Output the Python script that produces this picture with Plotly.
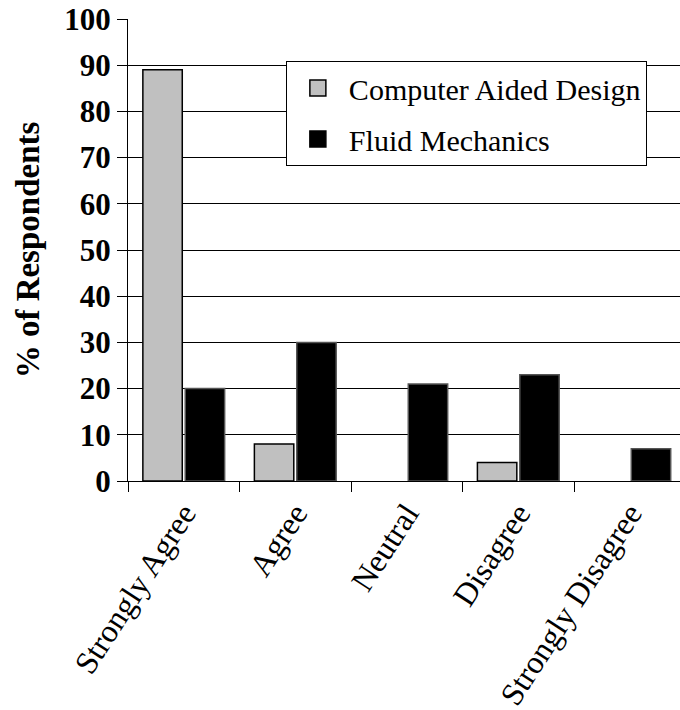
import plotly.graph_objects as go

# Survey responses (% of respondents) per answer, for each course
categories = ["Strongly Agree", "Agree", "Neutral", "Disagree", "Strongly Disagree"]
cad_values = [89, 8, 0, 4, 0]
fluid_values = [20, 30, 21, 23, 7]
y_ticks = [0, 10, 20, 30, 40, 50, 60, 70, 80, 90, 100]

series_names = ["Computer Aided Design", "Fluid Mechanics"]
series_fill = ["#c0c0c0", "#000000"]
series_edge = ["#000000", "#555555"]

SERIF = "Liberation Serif"

fig = go.Figure()
for name, values, fill, edge in zip(series_names, [cad_values, fluid_values],
                                    series_fill, series_edge):
    # empty answers get no outline so nothing shows on the baseline
    outline = [1.5 if v > 0 else 0 for v in values]
    fig.add_trace(go.Bar(
        x=categories, y=values, name=name, legendgroup=name, showlegend=False,
        marker=dict(color=fill, line=dict(color=edge, width=outline)),
    ))
    # legend key drawn as a larger square swatch
    fig.add_trace(go.Scatter(
        x=[None], y=[None], mode="markers", name=name, legendgroup=name,
        marker=dict(symbol="square", size=16, color=fill,
                    line=dict(color="#000000", width=1.5)),
        hoverinfo="skip",
    ))

fig.update_layout(
    width=680, height=710,
    margin=dict(l=128, r=0, t=19, b=229),
    paper_bgcolor="white", plot_bgcolor="white",
    barmode="group", bargap=0.24, bargroupgap=0.07,
    font=dict(family=SERIF, color="black"),
    showlegend=True,
    legend=dict(
        x=0.286, y=0.909, xanchor="left", yanchor="top",
        bgcolor="white", bordercolor="black", borderwidth=1,
        font=dict(family=SERIF, size=30, color="black"),
        traceorder="grouped", tracegroupgap=9,
        itemwidth=52, itemsizing="trace",
    ),
    xaxis=dict(
        type="category", range=[-0.5, 4.45], automargin=False,
        showline=True, linecolor="black", linewidth=1,
        ticks="outside", ticklen=10, tickcolor="black", tickwidth=1,
        tickson="boundaries", showgrid=False,
        tickangle=-57,
        tickfont=dict(family=SERIF, size=32, color="black"),
    ),
    yaxis=dict(
        range=[0, 100], tickvals=y_ticks, automargin=False,
        showline=True, linecolor="black", linewidth=1,
        ticks="outside", ticklen=10, tickcolor="black", tickwidth=1,
        showgrid=True, gridcolor="black", gridwidth=1, zeroline=False,
        tickfont=dict(family=SERIF, size=31, color="black", weight="bold"),
        title=dict(text="% of Respondents", standoff=14,
                   font=dict(family=SERIF, size=33, color="black", weight="bold")),
    ),
)

fig.write_html("out.html")
